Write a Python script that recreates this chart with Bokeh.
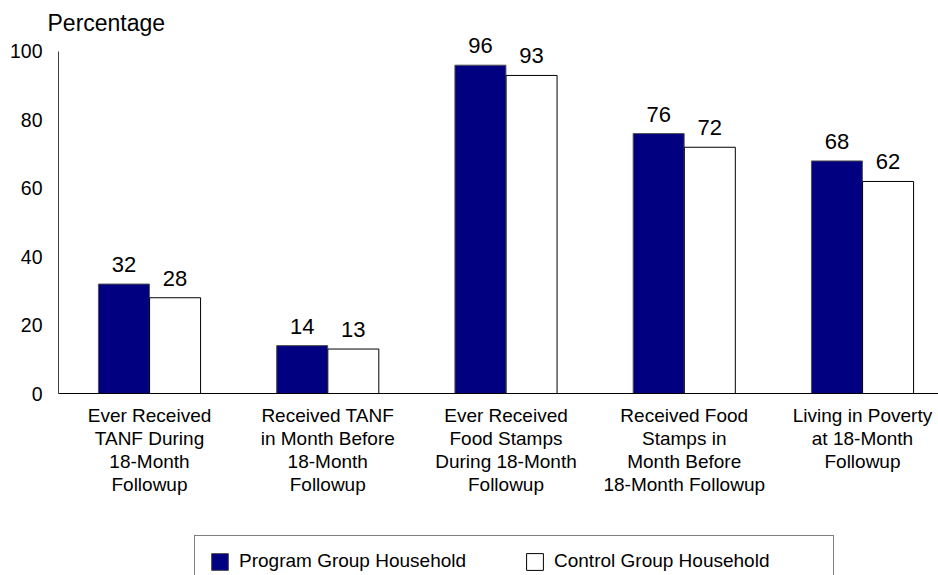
from bokeh.plotting import figure
from bokeh.models import (Range1d, FixedTicker, Legend, LegendItem, Label,
                          LabelSet, ColumnDataSource, LinearAxis)
from bokeh.core.properties import value
from bokeh.transform import dodge
from bokeh.embed import file_html
from bokeh.resources import INLINE

categories = [
    "Ever Received\nTANF During\n18-Month\nFollowup",
    "Received TANF\nin Month Before\n18-Month\nFollowup",
    "Ever Received\nFood Stamps\nDuring 18-Month\nFollowup",
    "Received Food\nStamps in\nMonth Before\n18-Month Followup",
    "Living in Poverty\nat 18-Month\nFollowup",
]
program = [32, 14, 96, 76, 68]
control = [28, 13, 93, 72, 62]
y_ticks = [0, 20, 40, 60, 80, 100]
series_names = ["Program Group Household", "Control Group Household"]
y_title = "Percentage"

FONT = "Liberation Sans"
NAVY = "#000080"

xs = list(range(len(categories)))
src = ColumnDataSource(dict(
    x=xs, program=program, control=control,
    plab=[str(v) for v in program], clab=[str(v) for v in control],
))

X_AXIS_POS = -0.5105
p = figure(width=938, height=575, output_backend="svg", toolbar_location=None,
           x_range=Range1d(-0.8359, 4.4264), y_range=Range1d(-53.216, 114.912),
           x_axis_type=None, y_axis_type=None,
           min_border_left=0, min_border_right=0, min_border_top=0,
           min_border_bottom=0)
p.outline_line_color = None
p.background_fill_color = "white"
p.border_fill_color = "white"

off = 0.1435
bw = 0.286
r1 = p.vbar(x=dodge("x", -off, range=p.x_range), top="program", width=bw,
            source=src, fill_color=NAVY, line_color="#505050", line_width=1)
r2 = p.vbar(x=dodge("x", off, range=p.x_range), top="control", width=bw,
            source=src, fill_color="white", line_color="black", line_width=1)

for field, lab, dx in (("program", "plab", -off), ("control", "clab", off)):
    ls = LabelSet(x=dodge("x", dx, range=p.x_range), y=field, text=lab, source=src,
                  text_align="center", text_baseline="alphabetic", y_offset=12,
                  text_font=value(FONT), text_font_size=value("22px"),
                  text_color="black")
    p.add_layout(ls)

# y axis (fixed inside the frame)
yaxis = LinearAxis(fixed_location=X_AXIS_POS, bounds=(0, 100),
                   ticker=FixedTicker(ticks=y_ticks))
yaxis.major_tick_line_color = None
yaxis.minor_tick_line_color = None
yaxis.axis_line_color = "#404040"
yaxis.major_label_standoff = 10
yaxis.major_label_text_font = FONT
yaxis.major_label_text_font_size = "19.5px"
yaxis.major_label_text_color = "black"
p.add_layout(yaxis, "left")

# x axis at y = 0
xaxis = LinearAxis(fixed_location=0, bounds=(X_AXIS_POS, 4.4264),
                   ticker=FixedTicker(ticks=xs))
xaxis.major_label_overrides = {i: c for i, c in enumerate(categories)}
xaxis.major_tick_line_color = None
xaxis.minor_tick_line_color = None
xaxis.axis_line_color = "black"
xaxis.major_label_standoff = 5
xaxis.major_label_text_font = FONT
xaxis.major_label_text_font_size = "19px"
xaxis.major_label_text_color = "black"
xaxis.major_label_text_line_height = 1.1
p.add_layout(xaxis, "below")

title = Label(x=47, y=553, x_units="screen", y_units="screen", text=y_title,
              text_baseline="middle", text_align="left", text_font=FONT,
              text_font_size="23px", text_color="black")
p.add_layout(title)

legend = Legend(items=[LegendItem(label=series_names[0], renderers=[r1]),
                       LegendItem(label=series_names[1], renderers=[r2])],
                orientation="horizontal", location=(194, -12),
                padding=14, spacing=20, glyph_width=21, glyph_height=21,
                label_width=265, label_height=20, label_standoff=9,
                label_text_font=FONT, label_text_font_size="19px",
                label_text_color="black", border_line_color="black",
                border_line_width=1, background_fill_color="white",
                background_fill_alpha=1.0, margin=0)
p.add_layout(legend)

open("out.html", "w").write(file_html(p, INLINE))
